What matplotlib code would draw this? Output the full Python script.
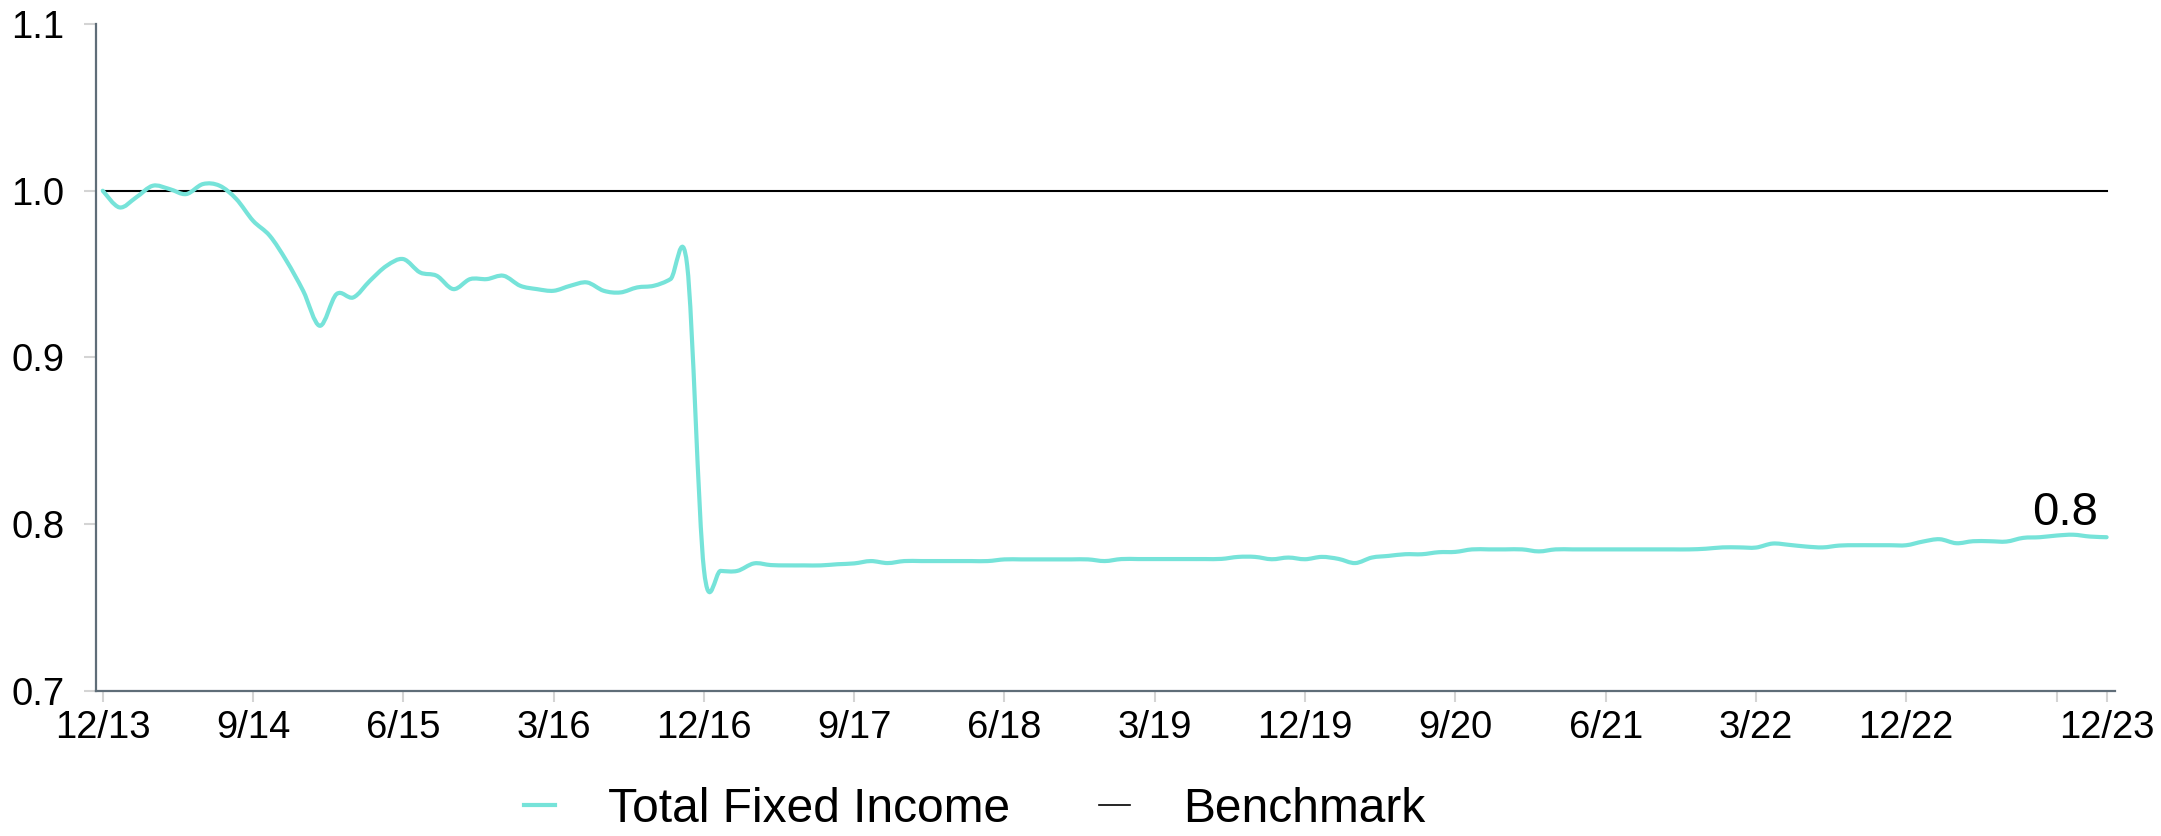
import matplotlib
matplotlib.use("Agg")
import matplotlib.pyplot as plt
import numpy as np
from matplotlib.path import Path
from matplotlib.patches import PathPatch
from matplotlib.lines import Line2D

plt.rcParams['font.family'] = ['Liberation Sans', 'DejaVu Sans']

# ---------------- data ----------------
series_name = "Total Fixed Income"
benchmark_name = "Benchmark"
tick_labels = ['12/13', '9/14', '6/15', '3/16', '12/16', '9/17', '6/18', '3/19',
               '12/19', '9/20', '6/21', '3/22', '12/22', '', '12/23']

total_fixed_income = [
    1.000, 0.990, 0.996, 1.003, 1.001, 0.998, 1.004, 1.003, 0.995, 0.982,   # 12/13 - 9/14
    0.973, 0.958, 0.940, 0.919, 0.938, 0.936, 0.946, 0.955, 0.959, 0.951,   # 10/14 - 7/15
    0.949, 0.941, 0.947, 0.947, 0.949, 0.943, 0.941, 0.940, 0.943, 0.945,   # 8/15 - 5/16
    0.940, 0.939, 0.942, 0.943, 0.947, 0.955, 0.773, 0.772, 0.772, 0.7765,  # 6/16 - 3/17
    0.7755, 0.7753, 0.7753, 0.7753, 0.776, 0.7765, 0.7779, 0.7767, 0.7779, 0.7779,  # 4/17 - 1/18
    0.7779, 0.7779, 0.7779, 0.7779, 0.7789, 0.7789, 0.7789, 0.7789, 0.7789, 0.7789,  # 2/18 - 11/18
    0.7779, 0.7791, 0.7791, 0.7791, 0.7791, 0.7791, 0.7791, 0.7792, 0.7804, 0.7804,  # 12/18 - 9/19
    0.779, 0.780, 0.779, 0.7804, 0.7792, 0.7767, 0.780, 0.781, 0.782, 0.782,         # 10/19 - 7/20
    0.7832, 0.7834, 0.7849, 0.7849, 0.7849, 0.7849, 0.7837, 0.7849, 0.7849, 0.7849,  # 8/20 - 5/21
    0.7849, 0.7849, 0.7849, 0.7849, 0.7849, 0.7849, 0.7853, 0.7861, 0.7861, 0.786,   # 6/21 - 3/22
    0.7884, 0.7876, 0.7866, 0.7861, 0.7872, 0.7874, 0.7874, 0.7874, 0.7874, 0.7896,  # 4/22 - 1/23
    0.791, 0.7886, 0.7898, 0.7898, 0.7896, 0.7918, 0.7922, 0.7932, 0.7937, 0.7926,   # 2/23 - 11/23
    0.7922,                                                                           # 12/23
]
benchmark = [1.0] * len(total_fixed_income)

# ---------------- style ----------------
LINE_COLOR = '#76e3d9'
SPINE_COLOR = '#5f6d78'
TICK_COLOR = '#d4d4d4'

fig = plt.figure(figsize=(21.61, 8.36), dpi=100)
ax = fig.add_axes([0.0443, 0.1735, 0.9344, 0.7978])

n = len(total_fixed_income)
x = np.arange(n, dtype=float)
y = np.asarray(total_fixed_income, dtype=float)

# Smooth Catmull-Rom curve drawn as Bezier path through the monthly values
pts = np.column_stack([x, y])
ext = np.vstack([pts[0], pts, pts[-1]])
verts = [tuple(pts[0])]
codes = [Path.MOVETO]
for i in range(n - 1):
    p0, p1, p2, p3 = ext[i], ext[i + 1], ext[i + 2], ext[i + 3]
    c1 = p1 + (p2 - p0) / 6.0
    c2 = p2 - (p3 - p1) / 6.0
    verts += [tuple(c1), tuple(c2), tuple(p2)]
    codes += [Path.CURVE4] * 3
patch = PathPatch(Path(verts, codes), facecolor='none', edgecolor=LINE_COLOR,
                  lw=3.0, capstyle='round', joinstyle='round', zorder=3)
ax.add_patch(patch)

ax.plot(x, benchmark, color='black', lw=1.5, zorder=2)

# last value annotation
ax.annotate(f"{round(y[-1], 1)}", xy=(x[-1], y[-1]), xytext=(-6, 8.5),
            textcoords='offset points', ha='right', va='baseline',
            fontsize=34, color='black')

# axes
ax.set_xlim(-0.42, n - 1 + 0.5)
ax.set_ylim(0.7, 1.1)
ax.set_yticks([0.7, 0.8, 0.9, 1.0, 1.1])
ax.set_yticklabels(['0.7', '0.8', '0.9', '1.0', '1.1'])
tick_pos = list(range(0, n - 1, 9)) + [n - 1]
ax.set_xticks(tick_pos)
ax.set_xticklabels(tick_labels)

for s in ['top', 'right']:
    ax.spines[s].set_visible(False)
for s in ['left', 'bottom']:
    ax.spines[s].set_color(SPINE_COLOR)
    ax.spines[s].set_linewidth(1.6)

ax.tick_params(axis='x', length=8, width=1.5, color=TICK_COLOR, pad=6,
               labelsize=27.5, labelcolor='black')
ax.tick_params(axis='y', length=8.5, width=1.5, color=TICK_COLOR, pad=14,
               labelsize=27.5, labelcolor='black')

handles = [Line2D([], [], color=LINE_COLOR, lw=3.0),
           Line2D([], [], color='black', lw=1.2)]
fig.legend(handles, [series_name, benchmark_name], loc='center',
           bbox_to_anchor=(0.451, 0.032), ncol=2, frameon=False, fontsize=34.5,
           handlelength=0.66, handletextpad=1.1, columnspacing=1.85)

fig.savefig('out.png', dpi=100)
